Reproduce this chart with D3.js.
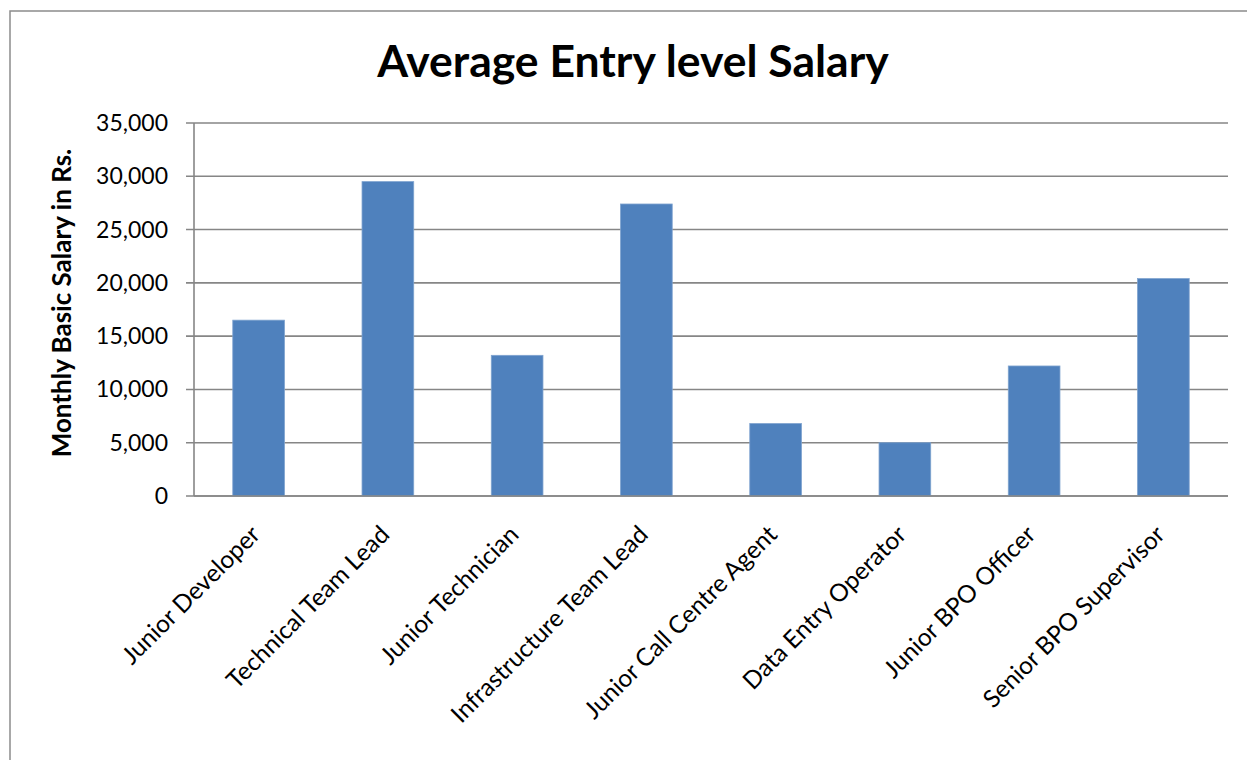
<!DOCTYPE html>
<html><head><meta charset="utf-8">
<script src="https://cdn.jsdelivr.net/npm/d3@7"></script>
<style>body{margin:0;background:#fff;} svg{display:block;}</style>
</head><body>
<svg id="c" width="1247" height="760"></svg>
<script>
const categories = ["Junior Developer","Technical Team Lead","Junior Technician","Infrastructure Team Lead","Junior Call Centre Agent","Data Entry Operator","Junior BPO Officer","Senior BPO Supervisor"];
const salaries = [16500, 29500, 13200, 27400, 6800, 5000, 12200, 20400];
const yTicks = [0, 5000, 10000, 15000, 20000, 25000, 30000, 35000];
const titleText = "Average Entry level Salary";
const yTitle = "Monthly Basic Salary in Rs.";

const svg = d3.select("#c");
const font = "Lato, 'Open Sans', sans-serif";
const grey = "#868686";
const m = {left:194, right:1228, top:123, bottom:496};

svg.append("rect").attr("x",10).attr("y",11).attr("width",1400).attr("height",900)
  .attr("fill","none").attr("stroke","#8c8c8c").attr("stroke-width",1.5);

const x = d3.scaleBand().domain(categories).range([m.left, m.right]).paddingInner(0.6).paddingOuter(0.3);
const y = d3.scaleLinear().domain([0, 35000]).range([m.bottom, m.top]);

// gridlines
svg.append("g").selectAll("line").data(yTicks).join("line")
  .attr("x1", m.left-8).attr("x2", m.right).attr("y1", d=>y(d)).attr("y2", d=>y(d))
  .attr("stroke", grey).attr("stroke-width",1.6);

// y axis line
svg.append("line").attr("x1",m.left).attr("x2",m.left).attr("y1",m.top).attr("y2",m.bottom)
  .attr("stroke",grey).attr("stroke-width",1.6);

// tick labels
const fmt = d3.format(",");
svg.append("g").selectAll("text").data(yTicks).join("text")
  .attr("x", 168).attr("y", d=>y(d)).attr("dy","0.35em").attr("text-anchor","end")
  .style("font-family",font).style("font-size","23px").attr("fill","#000")
  .text(d=>fmt(d));

// bars
svg.append("g").selectAll("rect").data(salaries).join("rect")
  .attr("x",(d,i)=>x(categories[i])).attr("width",x.bandwidth())
  .attr("y",d=>y(d)).attr("height",d=>y(0)-y(d))
  .attr("fill","#4F81BD").attr("stroke","#7fa3cf").attr("stroke-width",0.8);

// x axis baseline on top
svg.append("line").attr("x1",m.left).attr("x2",m.right).attr("y1",m.bottom).attr("y2",m.bottom)
  .attr("stroke",grey).attr("stroke-width",1.6);

// category labels
svg.append("g").selectAll("text").data(categories).join("text")
  .attr("transform", d=>`translate(${x(d)+x.bandwidth()/2+3},${m.bottom+40}) rotate(-45)`)
  .attr("text-anchor","end")
  .style("font-family",font).style("font-size","24.5px").attr("fill","#000")
  .text(d=>d);

// y axis title
svg.append("text").attr("transform",`translate(71,303) rotate(-90)`)
  .attr("text-anchor","middle")
  .style("font-family",font).style("font-size","26px").style("font-weight","bold")
  .text(yTitle);

// title
svg.append("text").attr("x",633).attr("y",77).attr("text-anchor","middle")
  .style("font-family",font).style("font-size","44.5px").style("font-weight","bold")
  .text(titleText);
</script>
</body></html>
